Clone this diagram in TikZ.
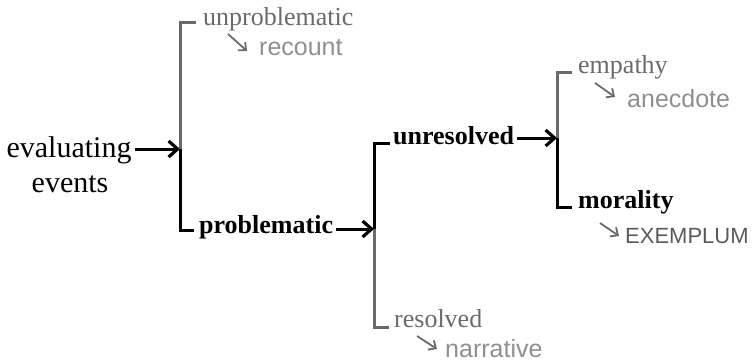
\documentclass[tikz,border=0pt]{standalone}
\usepackage{fontspec}
\setmainfont{Liberation Serif}
\setsansfont{Liberation Sans}
\usetikzlibrary{arrows.meta}
\definecolor{gser}{HTML}{6A6A6A}
\definecolor{gsans}{HTML}{8F8F8F}
\definecolor{gdark}{HTML}{5A5A5A}
\definecolor{gline}{HTML}{6A6A6A}
\begin{document}
\begin{tikzpicture}[x=1pt,y=-1pt,
  lab/.style={anchor=base west, inner sep=0pt, font=\fontsize{26}{30}\selectfont},
  big/.style={anchor=base, inner sep=0pt, font=\fontsize{30}{34}\selectfont},
  sans/.style={anchor=base west, inner sep=0pt, font=\sffamily\fontsize{25}{30}\selectfont, text=gsans},
  bline/.style={line width=3pt, black},
  gbline/.style={line width=3pt, gline},
  bigarrow/.style={line width=3pt, black, shorten <=3pt, -{Straight Barb[length=9pt,width=16pt,line width=3.2pt]}},
  smallarrow/.style={line width=1.8pt, gline, -{Straight Barb[length=6pt,width=11pt,line width=1.8pt]}}
]
\useasboundingbox (0,0) rectangle (753,362);

% root
\node[big] (ev1) at (69,157) {evaluating};
\node[big] (ev2) at (70,192) {events};

% bracket 1
\coordinate (b1) at (180,149);
\coordinate (b1t) at (180,22);
\coordinate (b1b) at (180,230);
\coordinate (b1tt) at (196,22);
\coordinate (b1bt) at (194,230);
\draw[bigarrow] (ev1.east |- b1) -- (b1);
\draw[gbline] (b1tt) -- (b1t) -- (b1);
\draw[bline] (b1) -- (b1b) -- (b1bt);

\node[lab, text=gser] (unprob) at (203,25) {unproblematic};
\node[sans] (recount) at (259,55) {recount};
\coordinate (s1a) at (228,34);
\coordinate (s1b) at (247,51);
\draw[smallarrow] (s1a) -- (s1b);

\node[lab, font=\bfseries\fontsize{26}{30}\selectfont] (prob) at (199,233) {problematic};

% bracket 2
\coordinate (b2) at (374,229);
\coordinate (b2t) at (374,143);
\coordinate (b2b) at (374,327);
\coordinate (b2tt) at (390,143);
\coordinate (b2bt) at (389,327);
\draw[bigarrow] (prob.east |- b2) -- (b2);
\draw[bline] (b2tt) -- (b2t) -- (b2);
\draw[gbline] (b2) -- (b2b) -- (b2bt);

\node[lab, font=\bfseries\fontsize{26}{30}\selectfont] (unres) at (393,144) {unresolved};
\node[lab, text=gser] (res) at (394,327) {resolved};
\node[sans] (narr) at (445,357) {narrative};
\coordinate (s2a) at (417,336);
\coordinate (s2b) at (437,349);
\draw[smallarrow] (s2a) -- (s2b);

% bracket 3
\coordinate (b3) at (557,138);
\coordinate (b3t) at (557,72);
\coordinate (b3b) at (557,207);
\coordinate (b3tt) at (572,72);
\coordinate (b3bt) at (572,207);
\draw[bigarrow] (unres.east |- b3) -- (b3);
\draw[gbline] (b3tt) -- (b3t) -- (b3);
\draw[bline] (b3) -- (b3b) -- (b3bt);

\node[lab, text=gser] (emp) at (578,73) {empathy};
\node[sans] (anec) at (627,107) {anecdote};
\coordinate (s3a) at (595,83);
\coordinate (s3b) at (615,97);
\draw[smallarrow] (s3a) -- (s3b);

\node[lab, font=\bfseries\fontsize{26}{30}\selectfont] (moral) at (578,208) {morality};
\node[anchor=base west, inner sep=0pt, font=\sffamily\fontsize{22}{26}\selectfont, text=gdark] (exem) at (625,243) {EXEMPLUM};
\coordinate (s4a) at (600,223);
\coordinate (s4b) at (619,236);
\draw[smallarrow] (s4a) -- (s4b);
\end{tikzpicture}
\end{document}
